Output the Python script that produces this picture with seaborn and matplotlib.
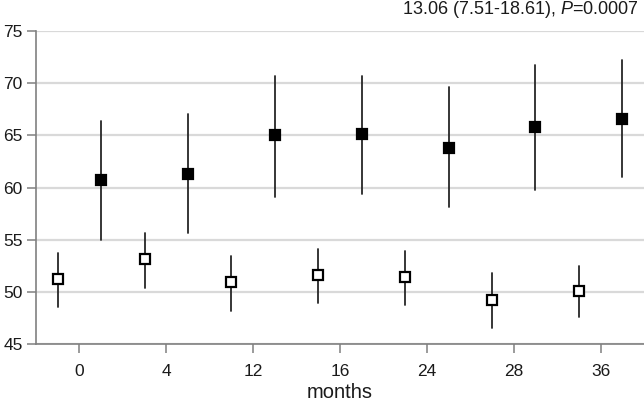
import numpy as np
import pandas as pd
import matplotlib
matplotlib.use('Agg')
import matplotlib.pyplot as plt
import seaborn as sns

# categories on the x axis
months = ['0', '4', '12', '16', '24', '28', '36']
groups = ['open', 'filled']

# point estimates with lower / upper limits
open_mean = [51.2, 53.1, 50.9, 51.6, 51.4, 49.2, 50.1]
open_low = [48.5, 50.4, 48.2, 48.9, 48.7, 46.5, 47.6]
open_high = [53.7, 55.6, 53.4, 54.1, 53.9, 51.8, 52.5]

filled_mean = [60.7, 61.3, 65.0, 65.1, 63.8, 65.8, 66.6]
filled_low = [55.0, 55.6, 59.1, 59.4, 58.1, 59.8, 61.0]
filled_high = [66.4, 67.0, 70.7, 70.7, 69.6, 71.7, 72.2]

note = r'13.06 (7.51-18.61), $\mathit{P}$=0.0007'

# long table: low / mean / high per cell, so median = estimate and min/max = interval
rows = []
for grp, lo, mid, hi in [('open', open_low, open_mean, open_high),
                         ('filled', filled_low, filled_mean, filled_high)]:
    for m, a, b, c in zip(months, lo, mid, hi):
        for v in (a, b, c):
            rows.append({'month': m, 'group': grp, 'value': v})
df = pd.DataFrame(rows)

sns.set_style('white')
plt.rcParams['font.family'] = ['Liberation Sans', 'DejaVu Sans']
plt.rcParams['mathtext.fontset'] = 'custom'
plt.rcParams['mathtext.rm'] = 'Liberation Sans'
plt.rcParams['mathtext.it'] = 'Liberation Sans:italic'

fig = plt.figure(figsize=(6.44, 4.01), dpi=100)
ax = fig.add_axes([36 / 644, 1 - 344 / 401, 608 / 644, 313 / 401])

sns.pointplot(data=df, x='month', y='value', hue='group', order=months, hue_order=groups,
              estimator='median', errorbar=lambda v: (v.min(), v.max()),
              dodge=0.5, markers='s', linestyle='none', palette=['black', 'black'],
              markersize=7.5, err_kws={'linewidth': 1.3, 'color': '#262626'},
              legend=False, ax=ax)

# style the square markers: first series hollow, second solid; keep them above the bars
square_lines = [ln for ln in ax.lines if ln.get_marker() == 's']
for ln, face in zip(square_lines, ['white', 'black']):
    ln.set_markerfacecolor(face)
    ln.set_markeredgecolor('black')
    ln.set_markeredgewidth(1.6)
    ln.set_zorder(4)

ax.set_ylim(45, 75)
ax.set_xlim(-0.5, 6.5)
ax.set_yticks([45, 50, 55, 60, 65, 70, 75])
ax.yaxis.grid(True, color='#d9d9d9', linewidth=1.6)
ax.xaxis.grid(False)
ax.set_axisbelow(True)

for side in ['top', 'right']:
    ax.spines[side].set_visible(False)
for side in ['left', 'bottom']:
    ax.spines[side].set_color('#808080')
    ax.spines[side].set_linewidth(1.2)

ax.tick_params(axis='both', bottom=True, left=True, direction='out', length=6.5, width=1.1,
               color='#808080', labelsize=12.5, labelcolor='#1a1a1a')
ax.tick_params(axis='x', pad=8)
ax.tick_params(axis='y', pad=3)

ax.set_xlabel('months', fontsize=14.5, color='#1a1a1a', labelpad=2.5)
ax.set_ylabel('')

fig.text(639 / 644, 1 - 13.5 / 401, note, ha='right', va='baseline',
         fontsize=13, color='#1a1a1a')

fig.savefig('out.png', dpi=100)
